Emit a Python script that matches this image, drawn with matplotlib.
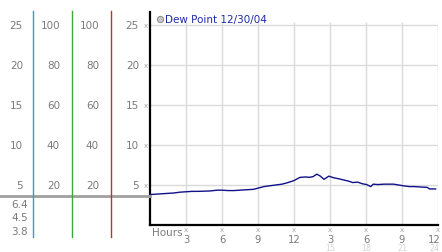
import matplotlib.pyplot as plt
import matplotlib.transforms as mtransforms
from matplotlib.lines import Line2D

# dew point readings (hours since midnight, deg)
hours = [0, 0.5, 1, 1.5, 2, 2.5, 3, 3.5, 4, 5, 5.6, 6, 6.5, 7, 7.5, 8, 8.6,
         9, 9.5, 10, 10.5, 11, 11.5, 12, 12.5, 13, 13.3, 13.6, 13.9, 14.2,
         14.5, 14.9, 15.3, 15.8, 16.2, 16.5, 16.9, 17.3, 17.7, 18.05, 18.4,
         18.6, 19, 19.5, 20.3, 21.1, 21.6, 22, 22.5, 23.1, 23.3, 23.8]
dewpt = [3.8, 3.85, 3.9, 3.95, 4.0, 4.1, 4.15, 4.2, 4.2, 4.25, 4.35, 4.35,
         4.3, 4.3, 4.35, 4.4, 4.45, 4.6, 4.8, 4.9, 5.0, 5.1, 5.3, 5.55,
         5.95, 6.0, 5.95, 6.05, 6.35, 6.1, 5.7, 6.1, 5.9, 5.75, 5.6, 5.5,
         5.3, 5.35, 5.15, 5.05, 4.8, 5.1, 5.05, 5.1, 5.1, 4.9, 4.8, 4.8,
         4.75, 4.7, 4.5, 4.5]

ytick_vals = [5, 10, 15, 20, 25]
pct_labels = ["20", "40", "60", "80", "100"]
xtick_vals = [3, 6, 9, 12, 15, 18, 21, 24]
xtick_top = ["3", "6", "9", "12", "3", "6", "9", "12"]
xtick_bot = ["", "", "", "", "15", "18", "21", "24"]
stat_labels = ["6.4", "4.5", "3.8"]

W, H = 442, 253
fig = plt.figure(figsize=(W / 100, H / 100), dpi=100)
fig.patch.set_facecolor("white")

def fx(px):
    return px / W

def fy(py):
    return 1 - py / H

ax = fig.add_axes([fx(150), fy(226), fx(438) - fx(150), fy(13) - fy(226)])
ax.set_xlim(0, 24)
ax.set_ylim(0, 26.6)
ax.set_facecolor("none")
for s in ["top", "right"]:
    ax.spines[s].set_visible(False)
ax.spines["left"].set_linewidth(1.6)
ax.spines["bottom"].set_linewidth(1.6)
ax.set_xticks([])
ax.set_yticks([])

# grid
ax.hlines(ytick_vals, 0, 24, color="#dadada", lw=1, zorder=1)
ax.vlines(xtick_vals, 0, 25.3, color="#dadada", lw=1, zorder=1)

ax.plot(hours, dewpt, color="#10108a", lw=1.0, zorder=3)

grey = "#7a7a7a"
fs = 7.5
tr = mtransforms.blended_transform_factory(fig.transFigure, ax.transData)

# left scales
for v, p in zip(ytick_vals, pct_labels):
    fig.text(fx(23), v, str(v), transform=tr, ha="right", va="center", fontsize=fs, color=grey)
    fig.text(fx(60), v, p, transform=tr, ha="right", va="center", fontsize=fs, color=grey)
    fig.text(fx(99), v, p, transform=tr, ha="right", va="center", fontsize=fs, color=grey)
    fig.text(fx(139), v, str(v), transform=tr, ha="right", va="center", fontsize=fs, color=grey)
    fig.text(fx(145.5), v, "x", transform=tr, ha="center", va="center", fontsize=5, color="#a8a8a8")

# current-value marker line
fig.add_artist(Line2D([0, fx(150)], [fy(197), fy(197)], color="#a0a0a0", lw=2))

# coloured scale bars
for px, c in zip([33, 72, 111], ["#2a9fd0", "#3aa83a", "#c03030"]):
    fig.add_artist(Line2D([fx(px), fx(px)], [fy(12), fy(238)], color=c, lw=1))

for i, s in enumerate(stat_labels):
    fig.text(fx(28), fy(205 + i * 13.5), s, ha="right", va="center", fontsize=fs, color=grey)

# x axis labels
fig.text(fx(152), fy(233), "Hours", ha="left", va="center", fontsize=fs, color=grey)
for h, a, b in zip(xtick_vals, xtick_top, xtick_bot):
    x = min(fx(150 + h * 12), fx(434))
    fig.text(fx(150 + h * 12), fy(230.5), "x", ha="center", va="center", fontsize=5, color="#a8a8a8")
    fig.text(x, fy(240), a, ha="center", va="center", fontsize=7.2, color=grey)
    if b:
        fig.text(x, fy(249), b, ha="center", va="center", fontsize=5.8, color="#d4d4d4")

# legend
fig.add_artist(Line2D([fx(160)], [fy(20)], marker="o", ms=4.5, mfc="#c8c8c8",
                      mec="#888888", mew=0.7, ls=""))
fig.text(fx(165), fy(20), "Dew Point 12/30/04", ha="left", va="center", fontsize=fs, color="#1c2aa8")

fig.savefig("out.png", dpi=100)
